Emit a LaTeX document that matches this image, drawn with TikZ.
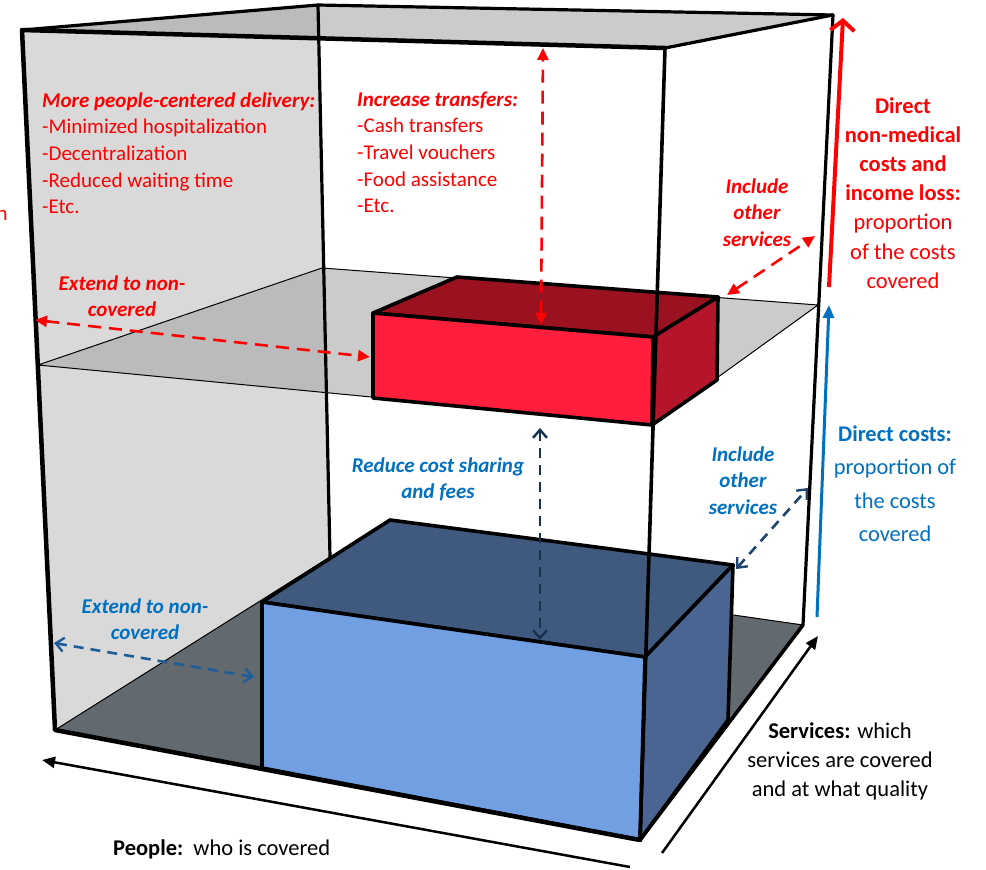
\documentclass[tikz,border=0pt]{standalone}
\usepackage{fontspec}
\setmainfont{Carlito}
\usetikzlibrary{arrows.meta}
\definecolor{leftwall}{HTML}{D9D9D9}
\definecolor{planegray}{HTML}{A7A7A7}
\definecolor{floorgray}{HTML}{62696F}
\definecolor{redfront}{HTML}{FF1E3C}
\definecolor{redtop}{HTML}{9A1220}
\definecolor{redside}{HTML}{B4152A}
\definecolor{bluefront}{HTML}{729FE2}
\definecolor{bluetop}{HTML}{3F5A7E}
\definecolor{blueside}{HTML}{4A6591}
\definecolor{txtred}{HTML}{FF0000}
\definecolor{txtblue}{HTML}{0070C0}
\definecolor{navyA}{HTML}{17324F}
\definecolor{navyB}{HTML}{1F4470}
\definecolor{navyC}{HTML}{1F5D99}
\begin{document}
\begin{tikzpicture}[x=1pt,y=-1pt,
  edgefront/.style={line width=4.5pt,line join=round,line cap=round},
  edgeback/.style={line width=3.2pt,line join=round,line cap=round},
  thinedge/.style={line width=1pt},
  boxedge/.style={draw=black,line width=3.6pt,line join=round},
  reddash/.style={draw=txtred,line width=2.6pt,dash pattern=on 13pt off 8pt,
     {Triangle[length=12pt,width=11pt]}-{Triangle[length=12pt,width=11pt]}},
  navydash/.style={line width=2.6pt,dash pattern=on 10pt off 7pt,
     {Straight Barb[length=8pt,width=14pt,line width=2.4pt]}-{Straight Barb[length=8pt,width=14pt,line width=2.4pt]}},
  lbl/.style={inner sep=0pt},
  fsmall/.style={font=\fontsize{21}{26.7}\selectfont},
  fbig/.style={font=\fontsize{22.5}{29.2}\selectfont}
]
\useasboundingbox (0,0) rectangle (986,870);
\fill[white] (0,0) rectangle (986,870);
% cube corners
\coordinate (F1) at (22,30);
\coordinate (F2) at (665,48);
\coordinate (F3) at (640,840);
\coordinate (F4) at (55,730);
\coordinate (B1) at (318,5);
\coordinate (B2) at (833,15);
\coordinate (B3) at (803,625);
\coordinate (B4) at (330,557);
% middle plane
\coordinate (P1) at (38,365);
\coordinate (P2) at (322,268);
\coordinate (P3) at (818,305);
\coordinate (P4) at (653,424);
% red box
\coordinate (RA) at (373,313);
\coordinate (RB) at (653,337);
\coordinate (RC) at (652,425);
\coordinate (RD) at (373,398);
\coordinate (RE) at (457,277);
\coordinate (RF) at (718,297);
\coordinate (RG) at (717,380);
% blue box
\coordinate (UA) at (262,602);
\coordinate (UB) at (645,657);
\coordinate (UC) at (640,840);
\coordinate (UD) at (262,768);
\coordinate (UE) at (390,520);
\coordinate (UF) at (733,565);
\coordinate (UG) at (728,720);

% walls
\fill[leftwall] (F1) -- (B1) -- (B4) -- (F4) -- cycle;
\fill[planegray,fill opacity=0.58] (F1) -- (B1) -- (B2) -- (F2) -- cycle;
\filldraw[fill=floorgray,draw=black,thinedge] (F4) -- (B4) -- (B3) -- (F3) -- cycle;
\filldraw[fill=planegray,fill opacity=0.58,draw=black,thinedge] (P1) -- (P2) -- (P3) -- (P4) -- cycle;
% back edges
\draw[edgeback] (F1) -- (B1) -- (B2);
\draw[edgeback] (B1) -- (B4);
\draw[edgeback] (B2) -- (B3);

% red box
\filldraw[fill=redtop,boxedge] (RA) -- (RE) -- (RF) -- (RB) -- cycle;
\filldraw[fill=redside,boxedge] (RB) -- (RF) -- (RG) -- (RC) -- cycle;
\filldraw[fill=redfront,boxedge] (RA) -- (RB) -- (RC) -- (RD) -- cycle;
% blue box
\filldraw[fill=bluetop,boxedge] (UA) -- (UE) -- (UF) -- (UB) -- cycle;
\filldraw[fill=blueside,boxedge] (UB) -- (UF) -- (UG) -- (UC) -- cycle;
\filldraw[fill=bluefront,boxedge] (UA) -- (UB) -- (UC) -- (UD) -- cycle;

% front edges
\draw[edgefront] (F2) -- (F1) -- (F4) -- (F3);
\draw[edgeback] (F2) -- (B2);
\draw[line width=3.6pt,line cap=round] (F2) -- (F3);
\draw[line width=3.6pt,line cap=round] (F3) -- (B3);

% arrow end points
\coordinate (rv1) at (541,325);
\coordinate (rv2) at (543,48);
\coordinate (re1) at (35,320);
\coordinate (re2) at (370,357);
\coordinate (ri1) at (727,295);
\coordinate (ri2) at (815,236);
\coordinate (rb1) at (829,287);
\coordinate (rb2) at (843,18);
\coordinate (bb1) at (817,617);
\coordinate (bb2) at (829,305);
\coordinate (nv1) at (540,428);
\coordinate (nv2) at (540,640);
\coordinate (ni1) at (736,569);
\coordinate (ni2) at (808,488);
\coordinate (ne1) at (54,643);
\coordinate (ne2) at (254,677);
\coordinate (ap1) at (630,867);
\coordinate (ap2) at (42,760);
\coordinate (as1) at (662,853);
\coordinate (as2) at (818,636);

\draw[reddash] (rv1) -- (rv2);
\draw[reddash] (re1) -- (re2);
\draw[reddash] (ri1) -- (ri2);
\draw[txtred,line width=4pt,-{Straight Barb[length=10pt,width=24pt,line width=4pt]}] (rb1) -- (rb2);
\draw[txtblue,line width=3pt,-{Triangle[length=13pt,width=11pt]}] (bb1) -- (bb2);
\draw[navyA,navydash] (nv1) -- (nv2);
\draw[navyB,navydash] (ni1) -- (ni2);
\draw[navyC,navydash] (ne1) -- (ne2);
\draw[black,line width=2.5pt,-{Triangle[length=13pt,width=11pt]}] (ap1) -- (ap2);
\draw[black,line width=2.5pt,-{Triangle[length=13pt,width=11pt]}] (as1) -- (as2);

% texts (base anchor = baseline of the last line)
\node[lbl,fsmall,anchor=base west,align=left,text=txtred] (tdeliv) at (42,213.8)
  {\textbf{\textit{More people-centered delivery:}}\\-Minimized hospitalization\\-Decentralization\\-Reduced waiting time\\-Etc.};
\node[lbl,fsmall,anchor=base west,align=left,text=txtred] (ttrans) at (357,212.8)
  {\textbf{\textit{Increase transfers:}}\\-Cash transfers\\-Travel vouchers\\-Food assistance\\-Etc.};
\node[lbl,fsmall,anchor=base west,text=txtred] (tcut) at (-3.5,220) {n};
\node[lbl,fsmall,anchor=base,align=center,text=txtred] (tincr) at (757,246.4)
  {\textbf{\textit{Include}}\\\textbf{\textit{other}}\\\textbf{\textit{services}}};
\node[lbl,fsmall,anchor=base,align=center,text=txtred] (textr) at (122,316.7)
  {\textbf{\textit{Extend to non-}}\\\textbf{\textit{covered}}};
\node[lbl,font=\fontsize{22.5}{29.2}\selectfont,anchor=base,align=center,text=txtred] (tdnm) at (903,288.2)
  {\textbf{Direct}\\\textbf{non-medical}\\\textbf{costs and}\\\textbf{income loss:}\\proportion\\of the costs\\covered};
\node[lbl,font=\fontsize{22.4}{33.5}\selectfont,anchor=base,align=center,text=txtblue] (tdc) at (895,541.5)
  {\textbf{Direct costs:}\\proportion of\\the costs\\covered};
\node[lbl,fsmall,anchor=base,align=center,text=txtblue] (tincb) at (743,514.4)
  {\textbf{\textit{Include}}\\\textbf{\textit{other}}\\\textbf{\textit{services}}};
\node[lbl,fsmall,anchor=base,align=center,text=txtblue] (tred) at (438,498.7)
  {\textbf{\textit{Reduce cost sharing}}\\\textbf{\textit{and fees}}};
\node[lbl,fsmall,anchor=base,align=center,text=txtblue] (textb) at (145,639.7)
  {\textbf{\textit{Extend to non-}}\\\textbf{\textit{covered}}};
\node[lbl,fbig,anchor=base,align=center,text=black] (tserv) at (840,796.4)
  {\textbf{Services:} which\\services are covered\\and at what quality};
\node[lbl,fbig,anchor=base west,text=black] (tpeop) at (113,855)
  {\textbf{People:}\hspace{0.45em}who is covered};
\end{tikzpicture}
\end{document}
